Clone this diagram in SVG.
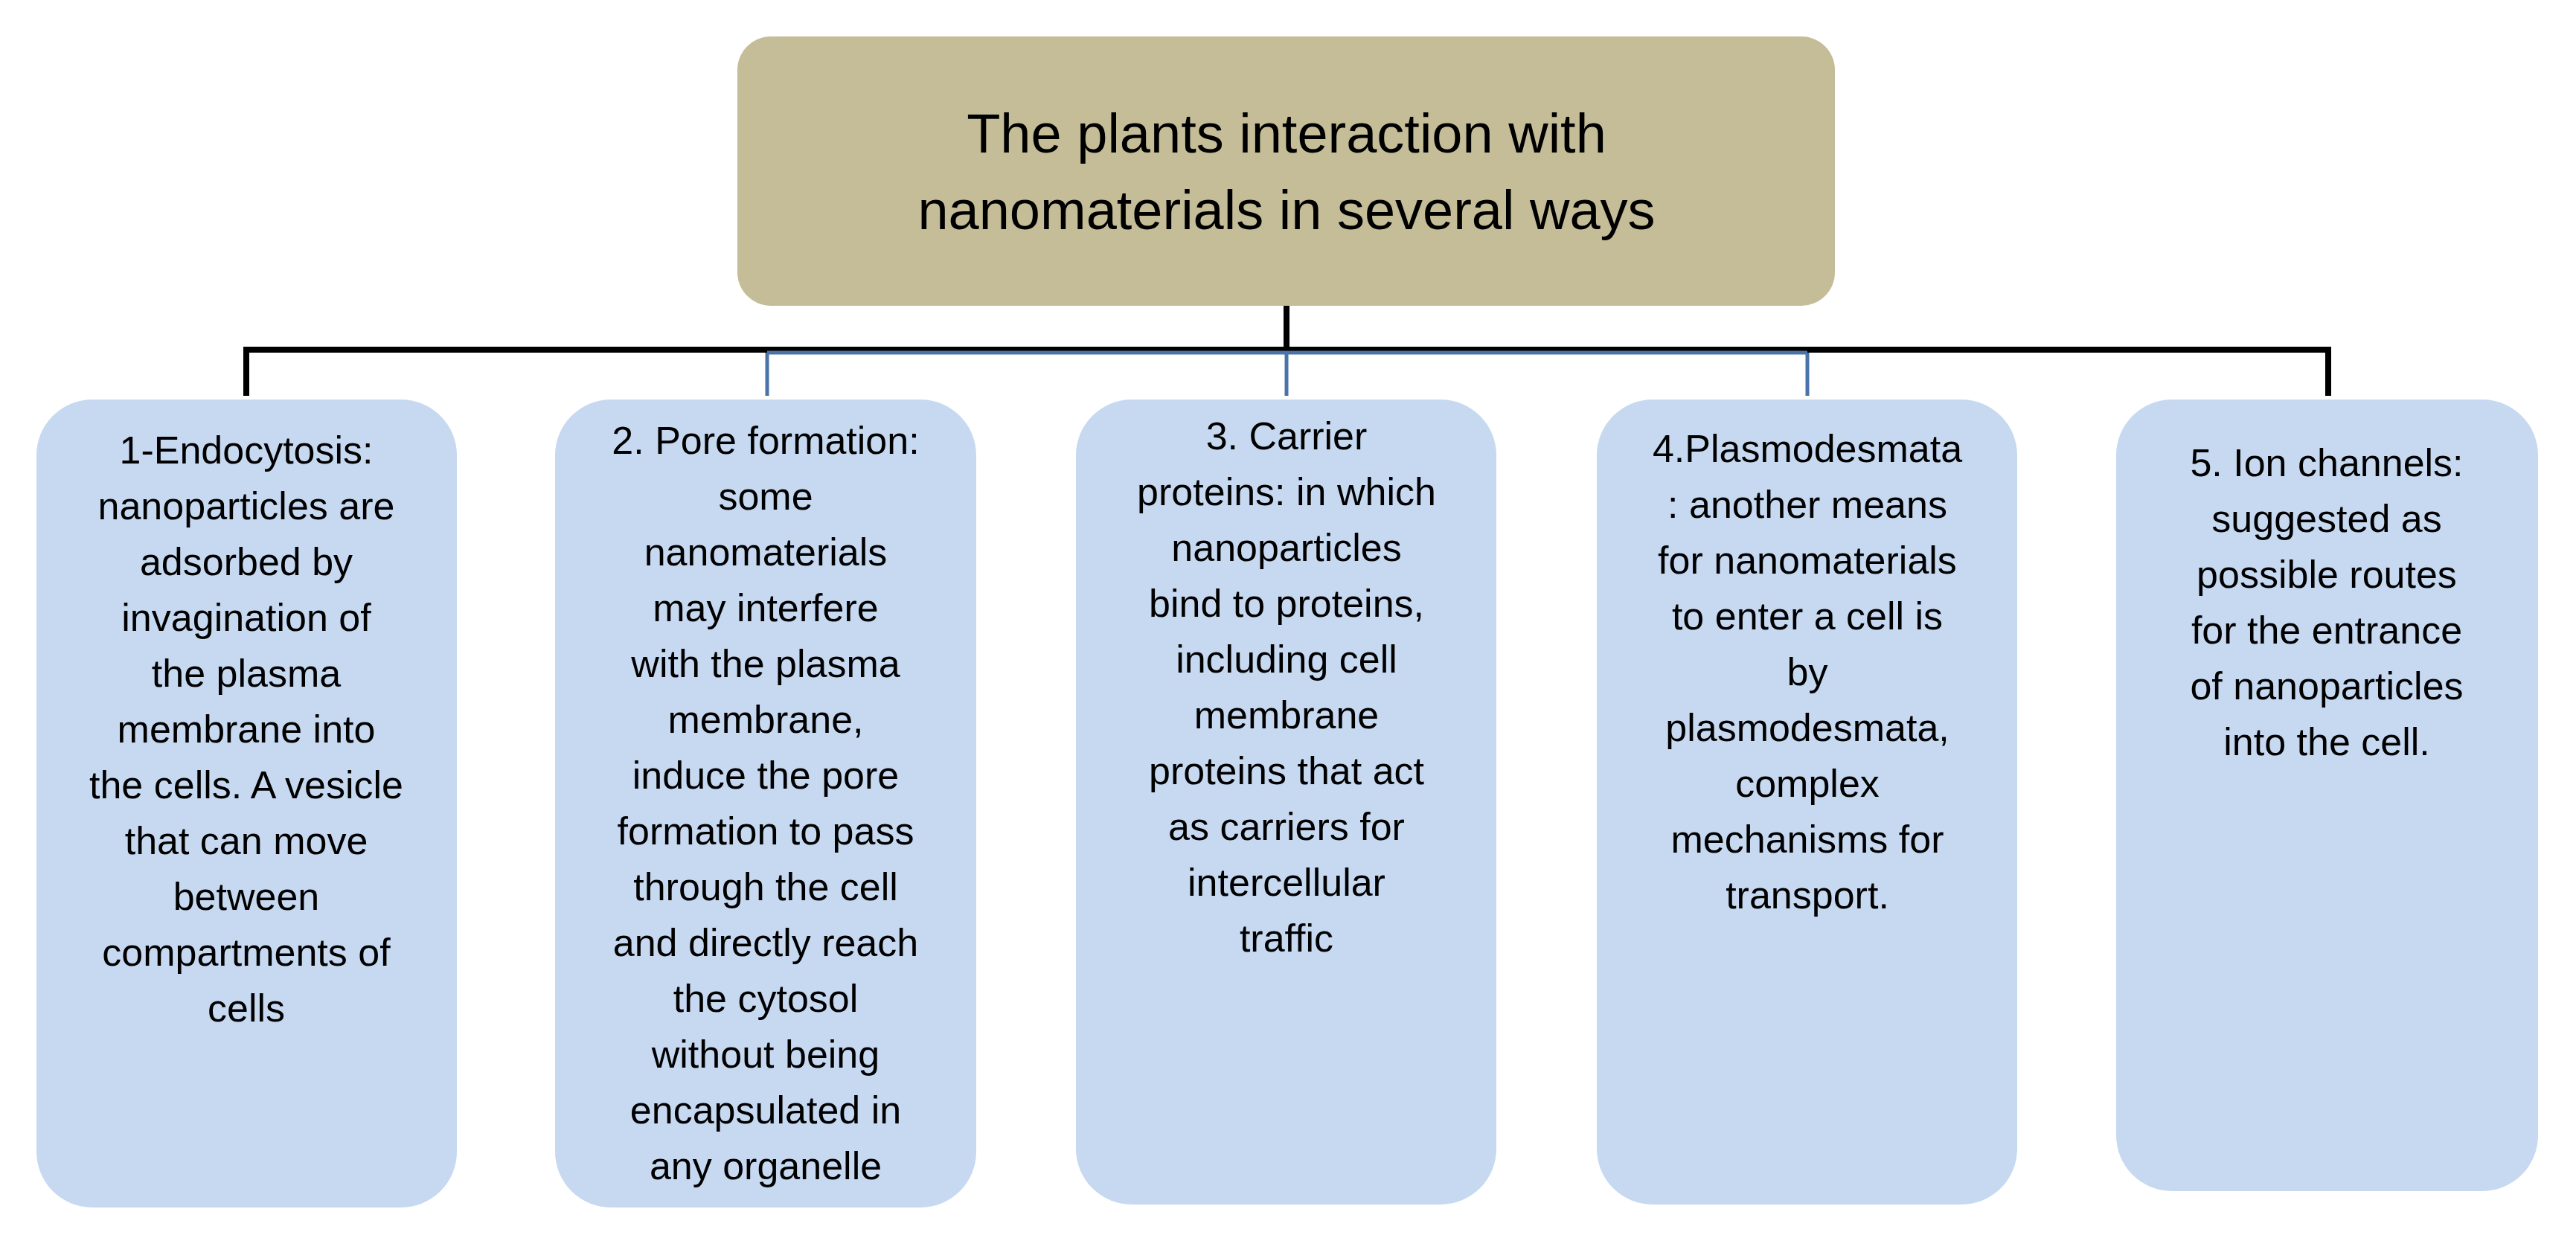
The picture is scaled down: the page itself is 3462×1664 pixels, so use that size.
<svg xmlns="http://www.w3.org/2000/svg" width="3462" height="1664" viewBox="0 0 3462 1664">
<style>
.box{fill:#c6d9f1}
.t{font-family:"Liberation Sans",Arial,sans-serif;font-size:52px;fill:#000;text-anchor:middle}
.h{font-family:"Liberation Sans",Arial,sans-serif;font-size:74px;fill:#000;text-anchor:middle}
.k{stroke:#000;stroke-width:8;fill:none}
.b{stroke:#4a74a8;stroke-width:5;fill:none}
</style>
<rect width="3462" height="1664" fill="#fff"/>
<g id="connectors">
<path class="k" d="M331 470H3129M331 466V532M3129 466V532M1729 411V470"/>
<path class="b" d="M1031 474H2429M1031 474V532M1729 474V532M2429 474V532"/>
</g>
<g id="title">
<rect x="991" y="49" width="1475" height="362" rx="45" fill="#c4bd97"/>
<text class="h" x="1729" y="205">The plants interaction with</text>
<text class="h" x="1729" y="308">nanomaterials in several ways</text>
</g>
<g id="n1">
<rect class="box" x="49" y="537" width="565" height="1086" rx="75"/>
<text class="t" y="623"><tspan x="331">1-Endocytosis:</tspan><tspan x="331" dy="75">nanoparticles are</tspan><tspan x="331" dy="75">adsorbed by</tspan><tspan x="331" dy="75">invagination of</tspan><tspan x="331" dy="75">the plasma</tspan><tspan x="331" dy="75">membrane into</tspan><tspan x="331" dy="75">the cells. A vesicle</tspan><tspan x="331" dy="75">that can move</tspan><tspan x="331" dy="75">between</tspan><tspan x="331" dy="75">compartments of</tspan><tspan x="331" dy="75">cells</tspan></text>
</g>
<g id="n2">
<rect class="box" x="746" y="537" width="566" height="1086" rx="75"/>
<text class="t" y="610"><tspan x="1029">2. Pore formation:</tspan><tspan x="1029" dy="75">some</tspan><tspan x="1029" dy="75">nanomaterials</tspan><tspan x="1029" dy="75">may interfere</tspan><tspan x="1029" dy="75">with the plasma</tspan><tspan x="1029" dy="75">membrane,</tspan><tspan x="1029" dy="75">induce the pore</tspan><tspan x="1029" dy="75">formation to pass</tspan><tspan x="1029" dy="75">through the cell</tspan><tspan x="1029" dy="75">and directly reach</tspan><tspan x="1029" dy="75">the cytosol</tspan><tspan x="1029" dy="75">without being</tspan><tspan x="1029" dy="75">encapsulated in</tspan><tspan x="1029" dy="75">any organelle</tspan></text>
</g>
<g id="n3">
<rect class="box" x="1446" y="537" width="565" height="1082" rx="75"/>
<text class="t" y="604"><tspan x="1729">3. Carrier</tspan><tspan x="1729" dy="75">proteins: in which</tspan><tspan x="1729" dy="75">nanoparticles</tspan><tspan x="1729" dy="75">bind to proteins,</tspan><tspan x="1729" dy="75">including cell</tspan><tspan x="1729" dy="75">membrane</tspan><tspan x="1729" dy="75">proteins that act</tspan><tspan x="1729" dy="75">as carriers for</tspan><tspan x="1729" dy="75">intercellular</tspan><tspan x="1729" dy="75">traffic</tspan></text>
</g>
<g id="n4">
<rect class="box" x="2146" y="537" width="565" height="1082" rx="75"/>
<text class="t" y="621"><tspan x="2429">4.Plasmodesmata</tspan><tspan x="2429" dy="75">: another means</tspan><tspan x="2429" dy="75">for nanomaterials</tspan><tspan x="2429" dy="75">to enter a cell is</tspan><tspan x="2429" dy="75">by</tspan><tspan x="2429" dy="75">plasmodesmata,</tspan><tspan x="2429" dy="75">complex</tspan><tspan x="2429" dy="75">mechanisms for</tspan><tspan x="2429" dy="75">transport.</tspan></text>
</g>
<g id="n5">
<rect class="box" x="2844" y="537" width="567" height="1064" rx="75"/>
<text class="t" y="640"><tspan x="3127">5. Ion channels:</tspan><tspan x="3127" dy="75">suggested as</tspan><tspan x="3127" dy="75">possible routes</tspan><tspan x="3127" dy="75">for the entrance</tspan><tspan x="3127" dy="75">of nanoparticles</tspan><tspan x="3127" dy="75">into the cell.</tspan></text>
</g>
</svg>
